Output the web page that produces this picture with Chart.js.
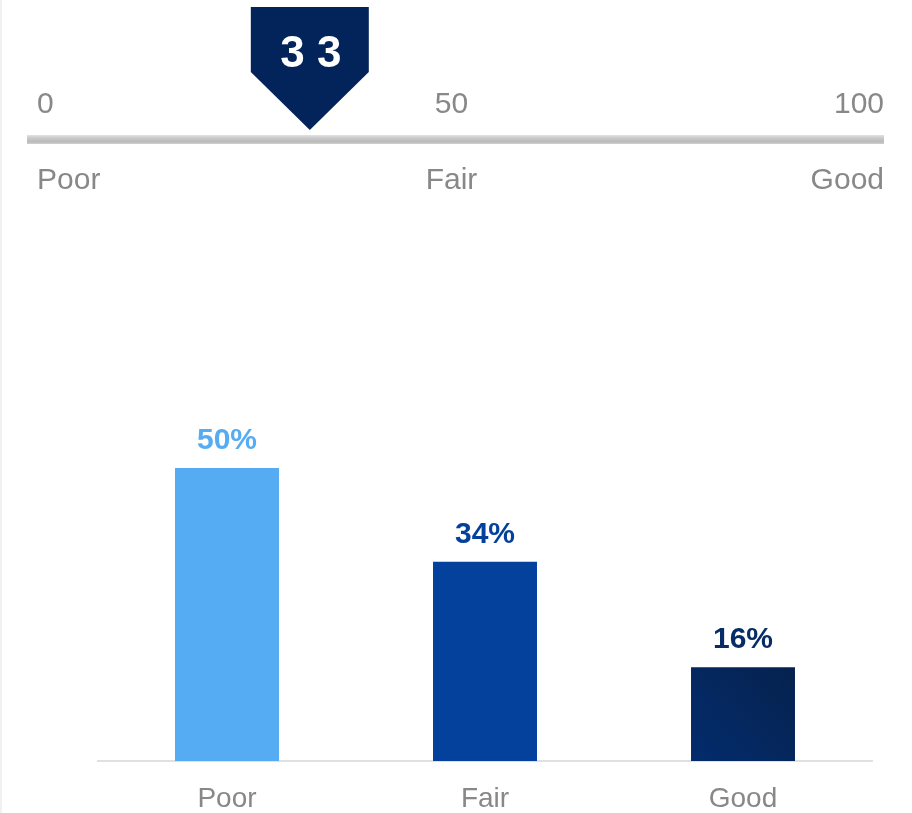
<!DOCTYPE html>
<html>
<head>
<meta charset="utf-8">
<script src="https://cdn.jsdelivr.net/npm/chart.js@4/dist/chart.umd.min.js"></script>
<style>
  html, body { margin: 0; padding: 0; background: #ffffff; }
  #wrap { position: relative; width: 912px; height: 813px; overflow: hidden; }
  #wrap::before { content: ""; position: absolute; left: 0; top: 0; width: 2px; height: 100%; background: #f1f1f1; }
  canvas { position: absolute; left: 0; top: 0; }
</style>
</head>
<body>
<div id="wrap">
  <canvas id="bars" width="912" height="813"></canvas>
  <canvas id="gauge" width="912" height="215"></canvas>
</div>
<script>
// Score gauge
const gaugeTicks = [0, 50, 100];
const gaugeBands = ['Poor', 'Fair', 'Good'];
const gaugeValue = 33;

// Distribution of ratings
const categories = ['Poor', 'Fair', 'Good'];
const shares = [50, 34, 16];
const labelColors = ['#56ACF2', '#03419C', '#072C66'];

const FONT = '"Liberation Sans", Arial, Helvetica, sans-serif';

// ---------- gauge ----------
const gaugePlugin = {
  id: 'gaugeDraw',
  afterDraw(chart) {
    const ctx = chart.ctx;
    const x = chart.scales.x;
    const left = x.getPixelForValue(gaugeTicks[0]);
    const right = x.getPixelForValue(gaugeTicks[gaugeTicks.length - 1]);

    ctx.save();
    // track
    const tg = ctx.createLinearGradient(0, 135, 0, 144);
    tg.addColorStop(0, '#e2e2e2');
    tg.addColorStop(0.35, '#c9c9c9');
    tg.addColorStop(0.75, '#bababa');
    tg.addColorStop(1, '#d0d0d0');
    ctx.fillStyle = tg;
    ctx.fillRect(left, 135, right - left, 9);

    // tick values above, band names below
    ctx.fillStyle = '#888888';
    ctx.font = '30px ' + FONT;
    ctx.textBaseline = 'alphabetic';
    gaugeTicks.forEach((t, i) => {
      const px = x.getPixelForValue(t);
      let tx = px, align = 'center';
      if (i === 0) { align = 'left'; tx = px + 10; }
      else if (i === gaugeTicks.length - 1) { align = 'right'; }
      else { tx = px - 4; }
      ctx.textAlign = align;
      ctx.fillText(String(t), tx, 112.5);
      ctx.fillText(gaugeBands[i], tx, 188.5);
    });

    // pointer
    const pt = chart.getDatasetMeta(0).data[0];
    const mx = pt.x;
    ctx.fillStyle = '#03245A';
    ctx.beginPath();
    ctx.moveTo(mx - 59, 7);
    ctx.lineTo(mx + 59, 7);
    ctx.lineTo(mx + 59, 72);
    ctx.lineTo(mx, 130);
    ctx.lineTo(mx - 59, 72);
    ctx.closePath();
    ctx.fill();

    ctx.fillStyle = '#ffffff';
    ctx.font = 'bold 44px ' + FONT;
    ctx.textAlign = 'center';
    ctx.fillText(String(gaugeValue).split('').join(' '), mx + 1, 67);
    ctx.restore();
  }
};

new Chart(document.getElementById('gauge'), {
  type: 'scatter',
  data: { datasets: [{ data: [{ x: gaugeValue, y: 0 }], pointRadius: 0 }] },
  options: {
    responsive: false,
    animation: false,
    events: [],
    layout: { padding: { left: 27, right: 28, top: 0, bottom: 0 } },
    plugins: { legend: { display: false }, tooltip: { enabled: false } },
    scales: {
      x: { type: 'linear', min: 0, max: 100, display: false },
      y: { min: -1, max: 1, display: false }
    }
  },
  plugins: [gaugePlugin]
});

// ---------- bars ----------
const valueLabels = {
  id: 'valueLabels',
  afterDatasetsDraw(chart) {
    const ctx = chart.ctx;
    const meta = chart.getDatasetMeta(0);
    ctx.save();
    ctx.font = 'bold 30px ' + FONT;
    ctx.textAlign = 'center';
    ctx.textBaseline = 'alphabetic';
    meta.data.forEach((bar, i) => {
      ctx.fillStyle = labelColors[i];
      ctx.fillText(shares[i] + '%', bar.x, bar.y - 19);
    });
    ctx.restore();
  }
};

function barFill(context) {
  const i = context.dataIndex;
  if (i !== 2) return labelColors[i];
  const chart = context.chart;
  const xs = chart.scales.x, ys = chart.scales.y;
  if (!xs || !ys || !chart.chartArea) return '#042A66';
  const cx = xs.getPixelForValue(i);
  const half = xs.width / categories.length * 0.403 / 2;
  const g = chart.ctx.createLinearGradient(cx - half, ys.getPixelForValue(0), cx + half, ys.getPixelForValue(shares[i]));
  g.addColorStop(0, '#032C6D');
  g.addColorStop(1, '#06224E');
  return g;
}

new Chart(document.getElementById('bars'), {
  type: 'bar',
  data: {
    labels: categories,
    datasets: [{
      data: shares,
      backgroundColor: barFill,
      borderWidth: 0,
      categoryPercentage: 1,
      barPercentage: 0.403
    }]
  },
  options: {
    responsive: false,
    animation: false,
    events: [],
    layout: { padding: { top: 409.4, left: 98, right: 40, bottom: 0 } },
    plugins: { legend: { display: false }, tooltip: { enabled: false } },
    scales: {
      y: { display: false, min: 0, max: 60 },
      x: {
        grid: { display: false, drawTicks: false },
        border: { color: '#e0e0e0', width: 2 },
        ticks: {
          color: '#888888',
          font: { family: FONT, size: 28 },
          padding: 21
        },
        afterFit(scale) { scale.height = 52; }
      }
    }
  },
  plugins: [valueLabels]
});
</script>
</body>
</html>
